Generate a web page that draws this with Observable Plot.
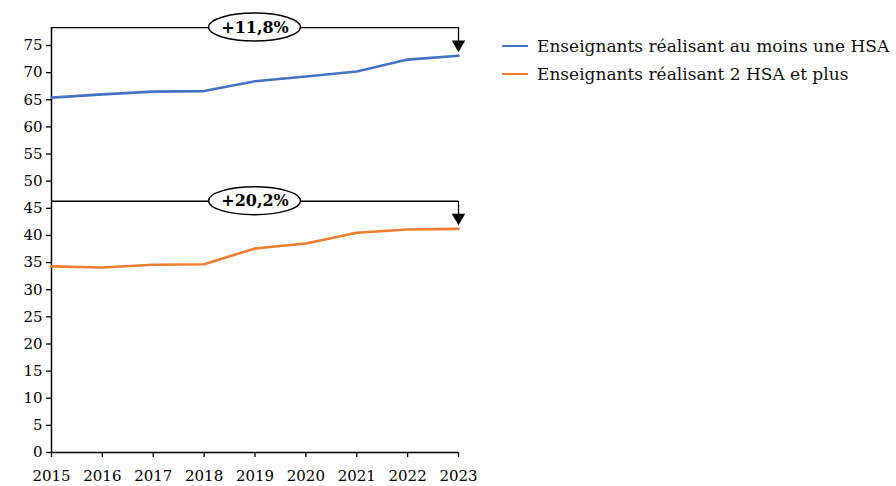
<!DOCTYPE html>
<html>
<head>
<meta charset="utf-8">
<script src="https://cdn.jsdelivr.net/npm/d3@7"></script>
<script src="https://cdn.jsdelivr.net/npm/@observablehq/plot@0.6"></script>
<style>
  body { margin: 0; background: white; }
  #wrap { position: relative; width: 896px; height: 486px; font-family: "DejaVu Serif", "Liberation Serif", serif; }
  #legend { position: absolute; left: 502px; top: 32px; font-size: 17px; color: #111; }
  .item { display: flex; align-items: center; height: 28px; }
  .sw { width: 26px; height: 0; border-top: 2.5px solid; margin-right: 9px; }
</style>
</head>
<body>
<div id="wrap"><div id="legend"></div></div>
<script>
const years = [2015, 2016, 2017, 2018, 2019, 2020, 2021, 2022, 2023];
const auMoinsUne = [65.4, 66.0, 66.5, 66.6, 68.4, 69.3, 70.2, 72.4, 73.1];
const deuxEtPlus = [34.3, 34.1, 34.6, 34.7, 37.6, 38.5, 40.5, 41.1, 41.2];
const seriesNames = ["Enseignants réalisant au moins une HSA", "Enseignants réalisant 2 HSA et plus"];
const seriesColors = ["#4472C4", "#ED7D31"];
const yTicks = [0, 5, 10, 15, 20, 25, 30, 35, 40, 45, 50, 55, 60, 65, 70, 75];
const annLabels = ["+11,8%", "+20,2%"];
const annLevel = [78.3, 46.3];
const annTip = [74.3, 42.4];
const annCenterYear = 2019;

const rows = [];
years.forEach((yr, i) => {
  rows.push({year: yr, value: auMoinsUne[i], serie: seriesNames[0]});
  rows.push({year: yr, value: deuxEtPlus[i], serie: seriesNames[1]});
});
const ann = annLabels.map((l, i) => ({label: l, level: annLevel[i], tip: annTip[i], start: years[0], end: years[years.length - 1], center: annCenterYear}));

const ellipseRender = (index, scales, values) => {
  const g = d3.create("svg:g");
  for (const i of index) {
    g.append("ellipse").attr("cx", values.x[i]).attr("cy", values.y[i])
      .attr("rx", 46).attr("ry", 14).attr("fill", "white").attr("stroke", "black").attr("stroke-width", 1.5);
  }
  return g.node();
};

const FONT = "'DejaVu Serif', 'Liberation Serif', serif";
const chart = Plot.plot({
  width: 896,
  height: 486,
  marginLeft: 51,
  marginRight: 438,
  marginTop: 45,
  marginBottom: 34,
  style: {fontFamily: FONT, fontSize: "15px", color: "black", background: "white"},
  x: {domain: [years[0], years[years.length - 1]]},
  y: {domain: [0, 75]},
  color: {domain: seriesNames, range: seriesColors},
  marks: [
    Plot.axisY({ticks: yTicks, tickSize: 5, tickPadding: 4, label: null, fontSize: 15, strokeWidth: 1.3}),
    Plot.axisX({ticks: years, tickFormat: d => String(d), tickSize: 5, tickPadding: 13, label: null, fontSize: 15, strokeWidth: 1.3}),
    Plot.ruleY([0], {x1: years[0], x2: years[years.length - 1], stroke: "black", strokeWidth: 1.5}),
    Plot.ruleX([years[0]], {y1: 0, y2: annLevel[0], stroke: "black", strokeWidth: 1.5, clip: false}),
    Plot.line(rows, {x: "year", y: "value", stroke: "serie", z: "serie", strokeWidth: 2.6}),
    Plot.ruleY(ann, {y: "level", x1: "start", x2: "end", stroke: "black", strokeWidth: 1.3}),
    Plot.ruleX(ann, {x: "end", y1: "level", y2: d => d.tip + 1.2, stroke: "black", strokeWidth: 1.3}),
    Plot.dot(ann, {x: "end", y: d => d.tip + 0.9, symbol: "triangle", rotate: 180, r: 5, fill: "black", stroke: "none"}),
    Plot.dot(ann, {x: "center", y: "level", render: ellipseRender}),
    Plot.text(ann, {x: "center", y: "level", text: "label", fontWeight: "bold", fontSize: 16, fill: "black"})
  ]
});
document.getElementById("wrap").prepend(chart);

const legend = document.getElementById("legend");
seriesNames.forEach((n, i) => {
  const it = document.createElement("div");
  it.className = "item";
  const sw = document.createElement("span");
  sw.className = "sw";
  sw.style.borderColor = seriesColors[i];
  const t = document.createElement("span");
  t.textContent = n;
  it.append(sw, t);
  legend.append(it);
});
</script>
</body>
</html>
